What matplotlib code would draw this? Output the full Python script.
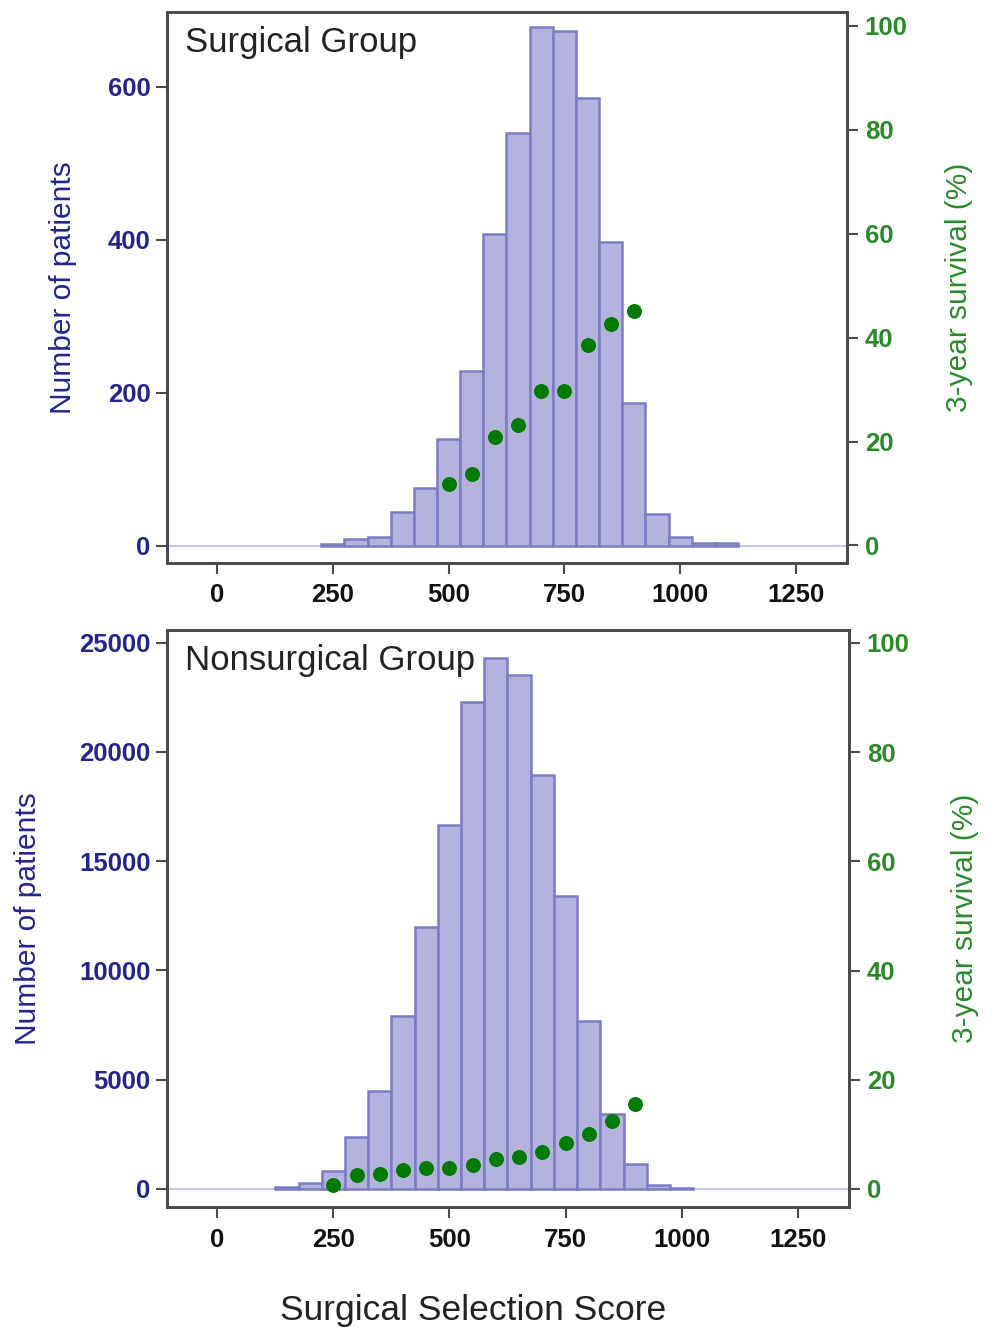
import matplotlib
matplotlib.use('Agg')
import matplotlib.pyplot as plt
import numpy as np

plt.rcParams['font.family'] = ['Liberation Sans', 'DejaVu Sans']

# bin centres (width 50) and counts
surg_bins = [250, 300, 350, 400, 450, 500, 550, 600, 650, 700, 750, 800, 850, 900, 950, 1000, 1050, 1100]
surg_counts = [2, 9, 12, 44, 76, 140, 228, 408, 540, 679, 673, 586, 397, 187, 42, 11, 3, 3]
surg_pts_x = [500, 550, 600, 650, 700, 750, 800, 850, 900]
surg_surv = [11.9, 13.8, 20.9, 23.2, 29.7, 29.8, 38.6, 42.6, 45.1]

nons_bins = [150, 200, 250, 300, 350, 400, 450, 500, 550, 600, 650, 700, 750, 800, 850, 900, 950, 1000]
nons_counts = [90, 290, 800, 2400, 4500, 7900, 12000, 16680, 22300, 24300, 23540, 18970, 13400, 7670, 3435, 1150, 180, 40]
nons_pts_x = [250, 300, 350, 400, 450, 500, 550, 600, 650, 700, 750, 800, 850, 900]
nons_surv = [0.7, 2.6, 2.7, 3.5, 3.8, 3.9, 4.4, 5.4, 5.9, 6.8, 8.5, 10.0, 12.5, 15.6]

xticks = [0, 250, 500, 750, 1000, 1250]

bar_face = '#b3b3dd'
bar_edge = '#7c7cc4'
navy = '#24248c'
green = '#2a8a2a'
dot_green = '#007a00'
spine_col = '#4a4a4a'

fig = plt.figure(figsize=(9.95, 13.3), dpi=100)


def panel(rect, bins, counts, px, surv, ylim, yticks, ylim2, title, title_y, lab_x, lab2_x):
    ax = fig.add_axes(rect)
    ax.bar(bins, counts, width=50, color=bar_face, edgecolor=bar_edge, linewidth=1.8, zorder=2)
    ax.axhline(0, color='#c8c8ec', lw=1.5, zorder=1)
    ax.set_xlim(-108, 1360)
    ax.set_ylim(*ylim)
    ax.set_xticks(xticks)
    ax.set_yticks(yticks)
    ax.tick_params(axis='x', direction='out', length=8, width=1.5, color=spine_col,
                   labelsize=18.5, pad=7, labelcolor='#111111')
    ax.tick_params(axis='y', direction='out', length=8, width=1.5, color=spine_col,
                   labelsize=18.5, pad=4, labelcolor=navy)
    for lab in ax.get_xticklabels() + ax.get_yticklabels():
        lab.set_fontweight('bold')
    ax.set_ylabel('Number of patients', color=navy, fontsize=21.5)
    ax.yaxis.set_label_coords(lab_x, 0.5)
    ax.text(0.026, title_y, title, transform=ax.transAxes, ha='left', va='top',
            fontsize=25, color='#222222')

    ax2 = ax.twinx()
    ax2.scatter(px, surv, s=95, color=dot_green, zorder=3)
    ax2.set_ylim(*ylim2)
    ax2.set_yticks([0, 20, 40, 60, 80, 100])
    ax2.tick_params(axis='y', direction='out', length=8, width=1.5, color=spine_col,
                    labelsize=18.5, pad=5, labelcolor=green)
    for lab in ax2.get_yticklabels():
        lab.set_fontweight('bold')
    ax2.set_ylabel('3-year survival (%)', color=green, fontsize=21.5)
    ax2.yaxis.set_label_coords(lab2_x, 0.5)
    for a in (ax, ax2):
        for s in a.spines.values():
            s.set_color(spine_col)
            s.set_linewidth(2)
    return ax, ax2


panel([0.168, 0.577, 0.683, 0.414], surg_bins, surg_counts, surg_pts_x, surg_surv,
      (-22, 698), [0, 200, 400, 600], (-3.3, 102.7), 'Surgical Group',
      0.974, -0.132, 1.145)

panel([0.168, 0.0925, 0.685, 0.434], nons_bins, nons_counts, nons_pts_x, nons_surv,
      (-824, 25595), [0, 5000, 10000, 15000, 20000, 25000], (-3.3, 102.4),
      'Nonsurgical Group', 0.975, -0.183, 1.150)

fig.text(0.476, 0.015, 'Surgical Selection Score', ha='center', va='center',
         fontsize=25.5, color='#222222')

fig.savefig('out.png', dpi=100)
